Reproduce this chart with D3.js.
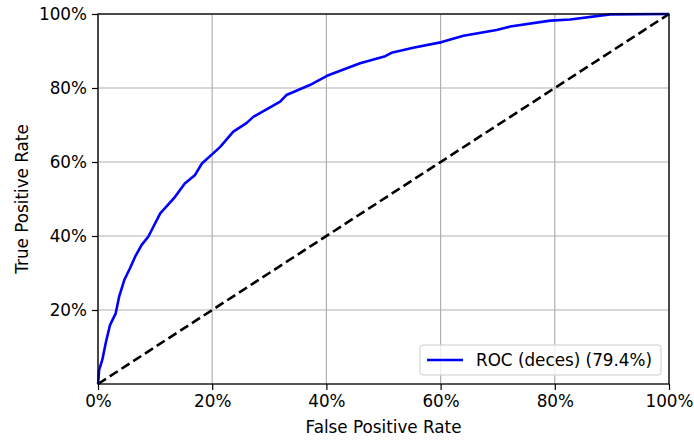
<!DOCTYPE html>
<html>
<head>
<meta charset="utf-8">
<script src="https://cdn.jsdelivr.net/npm/d3@7"></script>
<style>
  body { margin: 0; background: #fff; }
  text { font-family: "DejaVu Sans", sans-serif; fill: #000; }
</style>
</head>
<body>
<div id="chart"></div>
<script>
// ROC curve points (false positive rate, true positive rate)
const fpr = [0, 0.0005, 0.002, 0.0075, 0.014, 0.021, 0.031, 0.037, 0.046, 0.056, 0.065,
  0.0765, 0.088, 0.097, 0.109, 0.135, 0.152, 0.170, 0.182, 0.205, 0.214, 0.237, 0.260,
  0.272, 0.319, 0.330, 0.371, 0.401, 0.459, 0.503, 0.514, 0.552, 0.602, 0.640, 0.698,
  0.722, 0.792, 0.827, 0.897, 1];
const tpr = [0, 0.006, 0.038, 0.065, 0.114, 0.159, 0.191, 0.236, 0.281, 0.313, 0.344,
  0.376, 0.398, 0.425, 0.461, 0.506, 0.542, 0.565, 0.596, 0.628, 0.641, 0.682, 0.705,
  0.722, 0.763, 0.781, 0.808, 0.833, 0.867, 0.886, 0.895, 0.909, 0.924, 0.941, 0.957,
  0.966, 0.982, 0.985, 0.999, 1];
const chance = [0, 1];
const xTicks = [0, 0.2, 0.4, 0.6, 0.8, 1];
const yTicks = [0.2, 0.4, 0.6, 0.8, 1];
const legendLabel = "ROC (deces) (79.4%)";

const WIDTH = 694, HEIGHT = 442;
const MARGIN = { TOP: 14, BOTTOM: 58, LEFT: 98, RIGHT: 25 };
const w = WIDTH - MARGIN.LEFT - MARGIN.RIGHT;
const h = HEIGHT - MARGIN.TOP - MARGIN.BOTTOM;
const FONT = 16.8;
const GRID_COLOR = "#b0b0b0";

const svg = d3.select("#chart")
  .append("svg")
  .attr("width", WIDTH)
  .attr("height", HEIGHT)
  .append("g").attr("transform", `translate(${MARGIN.LEFT}, ${MARGIN.TOP})`);

// scales
const xScale = d3.scaleLinear().domain([0, 1]).range([0, w]);
const yScale = d3.scaleLinear().domain([0, 1]).range([h, 0]);
const pct = d3.format(".0%");

// grid
svg.append("g").selectAll("line").data(xTicks).join("line")
  .attr("x1", d => xScale(d)).attr("x2", d => xScale(d))
  .attr("y1", 0).attr("y2", h)
  .attr("stroke", GRID_COLOR).attr("stroke-width", 1.2);
svg.append("g").selectAll("line").data(yTicks).join("line")
  .attr("x1", 0).attr("x2", w)
  .attr("y1", d => yScale(d)).attr("y2", d => yScale(d))
  .attr("stroke", GRID_COLOR).attr("stroke-width", 1.2);

// x axis
const xAxisGroup = svg.append("g").attr("transform", `translate(0, ${h})`)
  .call(d3.axisBottom(xScale).tickValues(xTicks).tickFormat(pct).tickSize(6).tickPadding(5));
// y axis
const yAxisGroup = svg.append("g")
  .call(d3.axisLeft(yScale).tickValues(yTicks).tickFormat(pct).tickSize(6).tickPadding(5));

[xAxisGroup, yAxisGroup].forEach(g => {
  g.select(".domain").remove();
  g.selectAll(".tick line").attr("stroke", "#000").attr("stroke-width", 1.2);
  g.selectAll(".tick text")
    .attr("font-family", "DejaVu Sans")
    .attr("font-size", FONT)
    .attr("fill", "#000");
});

// chance line
const line = d3.line().x(d => xScale(d[0])).y(d => yScale(d[1]));
svg.append("path")
  .datum(chance.map((d, i) => [d, chance[i]]))
  .attr("d", line)
  .attr("fill", "none")
  .attr("stroke", "#000")
  .attr("stroke-width", 2.6)
  .attr("stroke-dasharray", "9.5,4.5");

// ROC curve
svg.append("path")
  .datum(fpr.map((d, i) => [d, tpr[i]]))
  .attr("d", line)
  .attr("fill", "none")
  .attr("stroke", "#0000ff")
  .attr("stroke-width", 2.6)
  .attr("stroke-linejoin", "round");

// frame
svg.append("rect")
  .attr("width", w).attr("height", h)
  .attr("fill", "none")
  .attr("stroke", "#000")
  .attr("stroke-width", 1.3);

// axis labels
svg.append("text")
  .attr("x", w / 2)
  .attr("y", h + 49)
  .attr("text-anchor", "middle")
  .attr("font-size", FONT)
  .text("False Positive Rate");
svg.append("text")
  .attr("x", -h / 2)
  .attr("y", -70)
  .attr("text-anchor", "middle")
  .attr("transform", "rotate(-90)")
  .attr("font-size", FONT)
  .text("True Positive Rate");

// legend
const legend = svg.append("g").attr("transform", `translate(${w - 249}, ${h - 39})`);
legend.append("rect")
  .attr("width", 241).attr("height", 30)
  .attr("rx", 3)
  .attr("fill", "#fff").attr("fill-opacity", 0.8)
  .attr("stroke", "#cccccc").attr("stroke-width", 1);
legend.append("line")
  .attr("x1", 7).attr("x2", 43)
  .attr("y1", 15).attr("y2", 15)
  .attr("stroke", "#0000ff").attr("stroke-width", 2.6);
legend.append("text")
  .attr("x", 56).attr("y", 21)
  .attr("font-size", FONT)
  .text(legendLabel);
</script>
</body>
</html>
